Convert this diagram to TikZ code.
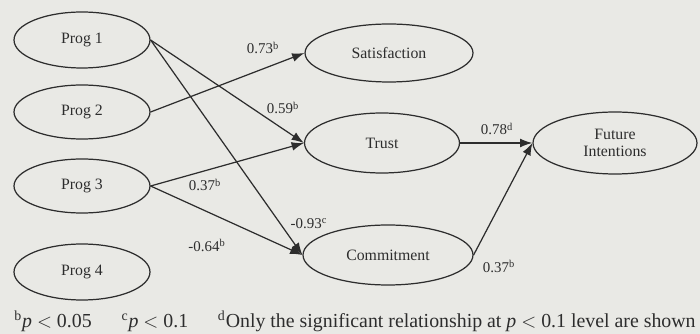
\documentclass[tikz,border=0pt]{standalone}
\usepackage{fontspec}
\setmainfont{Liberation Serif}
\usepackage{xcolor}
\usetikzlibrary{shapes.geometric,arrows.meta}

\definecolor{bgcol}{RGB}{233,233,229}
\definecolor{inkcol}{RGB}{45,45,45}

\tikzset{
  latent/.style={ellipse, draw=inkcol, line width=0.7pt, inner sep=0pt,
    text=inkcol, font=\fontsize{9}{10}\selectfont, align=center},
  path/.style={draw=inkcol, line width=0.7pt, -{Latex[length=7pt,width=5pt]}},
  coef/.style={text=inkcol, font=\fontsize{8.5}{10}\selectfont, inner sep=1pt}
}

\begin{document}
\begin{tikzpicture}[x=0.02cm, y=-0.02cm]
  % --- fondo e dimensioni ---
  \fill[bgcol] (0,0) rectangle (700,334);
  \useasboundingbox (0,0) rectangle (700,334);

  % --- variabili indipendenti ---
  \node[latent, minimum width=2.72cm, minimum height=1.12cm] (prog1) at (82,40)  {Prog 1};
  \node[latent, minimum width=2.72cm, minimum height=1.08cm] (prog2) at (82,112) {Prog 2};
  \node[latent, minimum width=2.72cm, minimum height=1.08cm] (prog3) at (82,186) {Prog 3};
  \node[latent, minimum width=2.72cm, minimum height=1.12cm] (prog4) at (82,272) {Prog 4};

  % --- variabili dipendenti ---
  \node[latent, minimum width=3.36cm, minimum height=1.16cm] (satis)  at (389,53)  {Satisfaction};
  \node[latent, minimum width=3.10cm, minimum height=1.20cm] (trust)  at (382,143) {Trust};
  \node[latent, minimum width=3.40cm, minimum height=1.20cm] (commit) at (388,255) {Commitment};
  \node[latent, minimum width=3.28cm, minimum height=1.24cm] (future) at (615,143) {Future\\Intentions};

  % --- relazioni significative ---
  \draw[path] (prog1.east) -- (trust.west);
  \draw[path] (prog1.east) -- (commit.west);
  \draw[path] (prog2.east) -- (satis.west);
  \draw[path] (prog3.east) -- (trust.west);
  \draw[path] (prog3.east) -- (commit.west);
  \draw[path] (trust.east) -- (future.west);
  \draw[path] (commit.east) -- (future.west);

  % --- coefficienti ---
  \node[coef] (c73) at (263,48)  {0.73$^{\mathrm{b}}$};
  \node[coef] (c59) at (283,108) {0.59$^{\mathrm{b}}$};
  \node[coef] (c37t) at (205,185) {0.37$^{\mathrm{b}}$};
  \node[coef] (c64) at (207,245) {-0.64$^{\mathrm{b}}$};
  \node[coef] (c93) at (309,224) {-0.93$^{\mathrm{c}}$};
  \node[coef] (c78) at (497,129) {0.78$^{\mathrm{d}}$};
  \node[coef] (c37c) at (499,266) {0.37$^{\mathrm{b}}$};

  % --- note ---
  \node[anchor=west, text=inkcol, font=\fontsize{11.3}{13}\selectfont, inner sep=0pt] (notes) at (14,321)
    {$^{\mathrm{b}}$\emph{p} $<$ 0.05\quad\ \ $^{\mathrm{c}}$\emph{p} $<$ 0.1\quad\ \ $^{\mathrm{d}}$Only the significant relationship at \emph{p} $<$ 0.1 level are shown};
\end{tikzpicture}
\end{document}
